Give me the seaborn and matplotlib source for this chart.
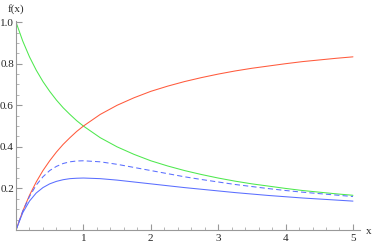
import matplotlib
matplotlib.use("Agg")
import matplotlib.pyplot as plt
import seaborn as sns
import pandas as pd
from matplotlib.ticker import MultipleLocator

x_vals = [0, 0.1, 0.2, 0.3, 0.4, 0.5, 0.6, 0.7, 0.8, 0.9, 1.0, 1.25, 1.5, 1.75, 2.0,
          2.25, 2.5, 2.75, 3.0, 3.25, 3.5, 3.75, 4.0, 4.25, 4.5, 4.75, 5.0]
green_vals = [1.000, 0.909, 0.833, 0.769, 0.714, 0.667, 0.625, 0.588, 0.556, 0.526, 0.500,
              0.444, 0.400, 0.364, 0.333, 0.308, 0.286, 0.267, 0.250, 0.235, 0.222, 0.211,
              0.200, 0.190, 0.182, 0.174, 0.167]
red_vals = [0.000, 0.091, 0.167, 0.231, 0.286, 0.333, 0.375, 0.412, 0.444, 0.474, 0.500,
            0.556, 0.600, 0.636, 0.667, 0.692, 0.714, 0.733, 0.750, 0.765, 0.778, 0.789,
            0.800, 0.810, 0.818, 0.826, 0.833]
blue_vals = [0.000, 0.083, 0.139, 0.178, 0.204, 0.222, 0.234, 0.242, 0.247, 0.249, 0.250,
             0.247, 0.240, 0.231, 0.222, 0.213, 0.204, 0.196, 0.188, 0.180, 0.173, 0.166,
             0.160, 0.154, 0.149, 0.144, 0.139]
dashed_vals = [0.000, 0.090, 0.161, 0.216, 0.256, 0.286, 0.306, 0.320, 0.328, 0.332, 0.333,
               0.328, 0.316, 0.301, 0.286, 0.271, 0.256, 0.243, 0.231, 0.219, 0.209, 0.199,
               0.190, 0.182, 0.175, 0.168, 0.161]

x_ticks = [1, 2, 3, 4, 5]
y_ticks = [0.2, 0.4, 0.6, 0.8, 1.0]
y_tick_labels = ["0.2", "0.4", "0.6", "0.8", "1.0"]

sns.set_style("white")
plt.rcParams['font.family'] = ['Liberation Serif', 'DejaVu Serif']

df = pd.DataFrame({"x": x_vals, "green": green_vals, "red": red_vals,
                   "blue": blue_vals, "dashed": dashed_vals})

fig = plt.figure(figsize=(3.75, 2.46), dpi=100)
ax = fig.add_axes([16/375, 16/246, 343.7/375, 208.5/246])

sns.lineplot(data=df, x="x", y="green", ax=ax, color="#4ee84e", lw=0.75)
sns.lineplot(data=df, x="x", y="red", ax=ax, color="#ff5a3c", lw=0.75)
sns.lineplot(data=df, x="x", y="blue", ax=ax, color="#5a6eff", lw=0.75)
sns.lineplot(data=df, x="x", y="dashed", ax=ax, color="#5a6eff", lw=0.75, linestyle=(0, (5, 3)))

ax.set_xlim(0, 5.1)
ax.set_ylim(0, 1.003)
for s in ["top", "right"]:
    ax.spines[s].set_visible(False)
for s in ["left", "bottom"]:
    ax.spines[s].set_color("#999999")
    ax.spines[s].set_linewidth(0.8)

ax.set_xticks(x_ticks)
ax.set_xticklabels([str(t) for t in x_ticks])
ax.set_yticks(y_ticks)
ax.set_yticklabels(y_tick_labels)
ax.xaxis.set_minor_locator(MultipleLocator(0.2))
ax.yaxis.set_minor_locator(MultipleLocator(0.05))
ax.tick_params(which="major", direction="in", length=4, width=0.8, color="#999999",
               labelsize=8, pad=1.5, bottom=True, left=True)
ax.tick_params(which="minor", direction="in", length=2, width=0.6, color="#aaaaaa",
               bottom=True, left=True)
ax.tick_params(axis="x", which="major", pad=3)
ax.set_xlabel("")
ax.set_ylabel("")

fig.text(8/375, 1 - 9/246, "f(x)", fontsize=8, va="center", ha="left")
fig.text(366/375, 1 - 231/246, "x", fontsize=8, va="center", ha="left")

fig.savefig("out.png", dpi=100)
